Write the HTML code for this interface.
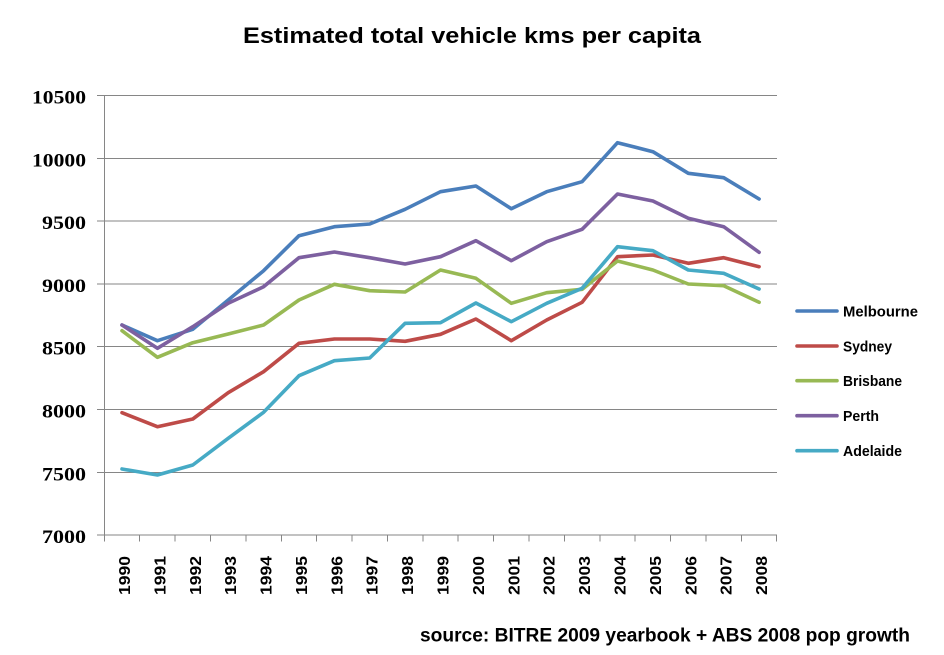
<!DOCTYPE html>
<html><head><meta charset="utf-8"><style>
html,body{margin:0;padding:0;background:#fff;}
svg{display:block;}
</style></head><body>
<svg width="944" height="655" viewBox="0 0 944 655" xmlns="http://www.w3.org/2000/svg">
<rect width="944" height="655" fill="#fff"/>
<text x="243" y="43" font-family="Liberation Sans, sans-serif" font-weight="bold" font-size="22" textLength="458" lengthAdjust="spacingAndGlyphs">Estimated total vehicle kms per capita</text>
<g stroke="#868686" stroke-width="1" shape-rendering="crispEdges">
<line x1="97" y1="95.5" x2="777" y2="95.5"/>
<line x1="97" y1="158.3" x2="777" y2="158.3"/>
<line x1="97" y1="221.1" x2="777" y2="221.1"/>
<line x1="97" y1="283.9" x2="777" y2="283.9"/>
<line x1="97" y1="346.7" x2="777" y2="346.7"/>
<line x1="97" y1="409.5" x2="777" y2="409.5"/>
<line x1="97" y1="472.3" x2="777" y2="472.3"/>
<line x1="97" y1="535" x2="777" y2="535"/>
<line x1="104.3" y1="95.5" x2="104.3" y2="541.5"/>
<line x1="139.7" y1="535" x2="139.7" y2="541.5"/>
<line x1="175.1" y1="535" x2="175.1" y2="541.5"/>
<line x1="210.5" y1="535" x2="210.5" y2="541.5"/>
<line x1="245.9" y1="535" x2="245.9" y2="541.5"/>
<line x1="281.3" y1="535" x2="281.3" y2="541.5"/>
<line x1="316.6" y1="535" x2="316.6" y2="541.5"/>
<line x1="352.0" y1="535" x2="352.0" y2="541.5"/>
<line x1="387.4" y1="535" x2="387.4" y2="541.5"/>
<line x1="422.8" y1="535" x2="422.8" y2="541.5"/>
<line x1="458.2" y1="535" x2="458.2" y2="541.5"/>
<line x1="493.6" y1="535" x2="493.6" y2="541.5"/>
<line x1="529.0" y1="535" x2="529.0" y2="541.5"/>
<line x1="564.4" y1="535" x2="564.4" y2="541.5"/>
<line x1="599.8" y1="535" x2="599.8" y2="541.5"/>
<line x1="635.2" y1="535" x2="635.2" y2="541.5"/>
<line x1="670.5" y1="535" x2="670.5" y2="541.5"/>
<line x1="705.9" y1="535" x2="705.9" y2="541.5"/>
<line x1="741.3" y1="535" x2="741.3" y2="541.5"/>
<line x1="776.7" y1="535" x2="776.7" y2="541.5"/>
</g>
<g font-family="Liberation Serif, serif" font-weight="bold" font-size="19" text-anchor="end" fill="#000">
<text x="86" y="103.5" textLength="54" lengthAdjust="spacingAndGlyphs">10500</text>
<text x="86" y="166.3" textLength="54" lengthAdjust="spacingAndGlyphs">10000</text>
<text x="86" y="229.1" textLength="44" lengthAdjust="spacingAndGlyphs">9500</text>
<text x="86" y="291.9" textLength="44" lengthAdjust="spacingAndGlyphs">9000</text>
<text x="86" y="354.7" textLength="44" lengthAdjust="spacingAndGlyphs">8500</text>
<text x="86" y="417.5" textLength="44" lengthAdjust="spacingAndGlyphs">8000</text>
<text x="86" y="480.3" textLength="44" lengthAdjust="spacingAndGlyphs">7500</text>
<text x="86" y="543" textLength="44" lengthAdjust="spacingAndGlyphs">7000</text>
</g>
<g font-family="Liberation Sans, sans-serif" font-weight="bold" font-size="16" text-anchor="end" fill="#000">
<text transform="translate(130,556) rotate(-90)" textLength="39" lengthAdjust="spacingAndGlyphs">1990</text>
<text transform="translate(165.4,556) rotate(-90)" textLength="39" lengthAdjust="spacingAndGlyphs">1991</text>
<text transform="translate(200.8,556) rotate(-90)" textLength="39" lengthAdjust="spacingAndGlyphs">1992</text>
<text transform="translate(236.2,556) rotate(-90)" textLength="39" lengthAdjust="spacingAndGlyphs">1993</text>
<text transform="translate(271.6,556) rotate(-90)" textLength="39" lengthAdjust="spacingAndGlyphs">1994</text>
<text transform="translate(307.0,556) rotate(-90)" textLength="39" lengthAdjust="spacingAndGlyphs">1995</text>
<text transform="translate(342.4,556) rotate(-90)" textLength="39" lengthAdjust="spacingAndGlyphs">1996</text>
<text transform="translate(377.7,556) rotate(-90)" textLength="39" lengthAdjust="spacingAndGlyphs">1997</text>
<text transform="translate(413.1,556) rotate(-90)" textLength="39" lengthAdjust="spacingAndGlyphs">1998</text>
<text transform="translate(448.5,556) rotate(-90)" textLength="39" lengthAdjust="spacingAndGlyphs">1999</text>
<text transform="translate(483.9,556) rotate(-90)" textLength="39" lengthAdjust="spacingAndGlyphs">2000</text>
<text transform="translate(519.3,556) rotate(-90)" textLength="39" lengthAdjust="spacingAndGlyphs">2001</text>
<text transform="translate(554.7,556) rotate(-90)" textLength="39" lengthAdjust="spacingAndGlyphs">2002</text>
<text transform="translate(590.1,556) rotate(-90)" textLength="39" lengthAdjust="spacingAndGlyphs">2003</text>
<text transform="translate(625.5,556) rotate(-90)" textLength="39" lengthAdjust="spacingAndGlyphs">2004</text>
<text transform="translate(660.9,556) rotate(-90)" textLength="39" lengthAdjust="spacingAndGlyphs">2005</text>
<text transform="translate(696.3,556) rotate(-90)" textLength="39" lengthAdjust="spacingAndGlyphs">2006</text>
<text transform="translate(731.7,556) rotate(-90)" textLength="39" lengthAdjust="spacingAndGlyphs">2007</text>
<text transform="translate(767.1,556) rotate(-90)" textLength="39" lengthAdjust="spacingAndGlyphs">2008</text>
</g>
<g fill="none" stroke-width="3.6" stroke-linejoin="round" stroke-linecap="round">
<polyline stroke="#4A7EBB" points="122.0,325 157.4,340.7 192.8,329.3 228.2,300 263.6,270.7 299.0,235.7 334.4,226.7 369.7,224 405.1,209.3 440.5,191.7 475.9,186 511.3,208.7 546.7,191.7 582.1,181.7 617.5,142.7 652.9,151.7 688.3,173.3 723.7,177.7 759.1,199"/>
<polyline stroke="#BE4B48" points="122.0,412.7 157.4,426.7 192.8,419 228.2,392.7 263.6,371.7 299.0,343.3 334.4,339 369.7,339 405.1,341.3 440.5,334.3 475.9,319 511.3,340.7 546.7,320 582.1,302.3 617.5,256.7 652.9,255 688.3,263.3 723.7,257.7 759.1,266.7"/>
<polyline stroke="#98B954" points="122.0,330.7 157.4,357.3 192.8,342.7 228.2,334 263.6,325 299.0,300 334.4,284.3 369.7,290.7 405.1,292 440.5,270 475.9,278.3 511.3,303.3 546.7,292.7 582.1,289.3 617.5,261 652.9,270 688.3,284 723.7,285.7 759.1,302.3"/>
<polyline stroke="#7D60A0" points="122.0,325 157.4,348.3 192.8,326.7 228.2,303.3 263.6,286.7 299.0,257.7 334.4,252 369.7,257.7 405.1,264 440.5,256.7 475.9,240.7 511.3,260.7 546.7,241.7 582.1,229.3 617.5,194 652.9,201 688.3,218.3 723.7,226.7 759.1,252.3"/>
<polyline stroke="#46AAC5" points="122.0,469 157.4,475 192.8,465 228.2,438.3 263.6,412.3 299.0,375.7 334.4,360.7 369.7,358 405.1,323.3 440.5,322.7 475.9,303 511.3,321.7 546.7,303.3 582.1,288.3 617.5,246.7 652.9,250.7 688.3,270 723.7,273.3 759.1,289"/>
</g>
<g stroke-width="3.6" stroke-linecap="round">
<line x1="797" y1="311" x2="837" y2="311" stroke="#4A7EBB"/>
<line x1="797" y1="346" x2="837" y2="346" stroke="#BE4B48"/>
<line x1="797" y1="380.7" x2="837" y2="380.7" stroke="#98B954"/>
<line x1="797" y1="415.7" x2="837" y2="415.7" stroke="#7D60A0"/>
<line x1="797" y1="450.7" x2="837" y2="450.7" stroke="#46AAC5"/>
</g>
<g font-family="Liberation Sans, sans-serif" font-weight="bold" font-size="15" fill="#000">
<text x="843" y="316.5" textLength="75" lengthAdjust="spacingAndGlyphs">Melbourne</text>
<text x="843" y="351.5" textLength="49" lengthAdjust="spacingAndGlyphs">Sydney</text>
<text x="843" y="386.2" textLength="59" lengthAdjust="spacingAndGlyphs">Brisbane</text>
<text x="843" y="421.2" textLength="36" lengthAdjust="spacingAndGlyphs">Perth</text>
<text x="843" y="456.2" textLength="59" lengthAdjust="spacingAndGlyphs">Adelaide</text>
</g>
<text x="420" y="641.7" font-family="Liberation Sans, sans-serif" font-weight="bold" font-size="19" textLength="490" lengthAdjust="spacingAndGlyphs">source: BITRE 2009 yearbook + ABS 2008 pop growth</text>
</svg>
</body></html>
